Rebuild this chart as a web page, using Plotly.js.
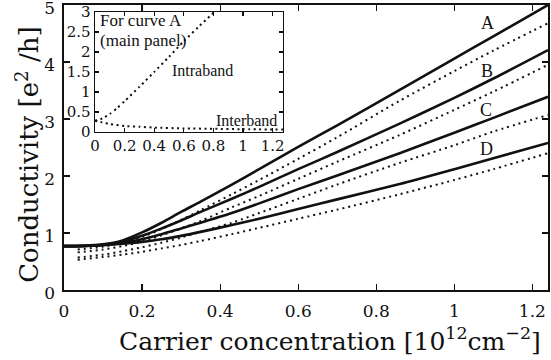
<!DOCTYPE html>
<html>
<head>
<meta charset="utf-8">
<script src="https://cdn.plot.ly/plotly-3.0.1.min.js"></script>
<style>html,body{margin:0;padding:0;background:#fff;}#chart{width:551px;height:360px;}</style>
</head>
<body>
<div id="chart"></div>
<script>
// Main panel: carrier concentration [10^12 cm^-2]
const xSolid = [0, 0.05, 0.1, 0.15, 0.2, 0.25, 0.3, 0.35, 0.43, 0.5, 0.6, 0.7, 0.86, 1.0, 1.1, 1.24];
const solidA = [0.77, 0.775, 0.80, 0.87, 1.01, 1.18, 1.37, 1.55, 1.85, 2.12, 2.51, 2.89, 3.51, 4.06, 4.45, 5.0];
const solidB = [0.77, 0.775, 0.795, 0.85, 0.95, 1.08, 1.22, 1.37, 1.60, 1.81, 2.12, 2.42, 2.92, 3.37, 3.71, 4.21];
const solidC = [0.77, 0.772, 0.79, 0.83, 0.89, 0.98, 1.08, 1.18, 1.35, 1.52, 1.77, 2.01, 2.40, 2.76, 3.02, 3.39];
const solidD = [0.77, 0.772, 0.785, 0.81, 0.845, 0.89, 0.95, 1.02, 1.14, 1.25, 1.42, 1.59, 1.86, 2.12, 2.31, 2.58];

const xDot = [0.035, 0.1, 0.15, 0.2, 0.25, 0.3, 0.35, 0.43, 0.5, 0.6, 0.7, 0.86, 1.0, 1.1, 1.24];
const dotA = [0.71, 0.76, 0.83, 0.93, 1.07, 1.23, 1.40, 1.68, 1.93, 2.30, 2.68, 3.32, 3.84, 4.20, 4.68];
const dotB = [0.66, 0.71, 0.77, 0.85, 0.96, 1.08, 1.21, 1.45, 1.65, 1.95, 2.25, 2.72, 3.16, 3.48, 3.95];
const dotC = [0.57, 0.62, 0.68, 0.75, 0.83, 0.92, 1.02, 1.18, 1.35, 1.60, 1.85, 2.23, 2.54, 2.78, 3.07];
const dotD = [0.53, 0.58, 0.62, 0.67, 0.73, 0.79, 0.86, 0.98, 1.09, 1.25, 1.41, 1.68, 1.93, 2.12, 2.40];

const curveLabels = ['A', 'B', 'C', 'D'];
const labelX = [1.084, 1.084, 1.082, 1.082];
const labelY = [4.69, 3.85, 3.16, 2.47];

// Inset (curve A decomposition)
const xIntra = [0, 0.05, 0.1, 0.15, 0.2, 0.3, 0.4, 0.5, 0.6, 0.7, 0.82];
const intraband = [0.28, 0.34, 0.45, 0.60, 0.77, 1.13, 1.50, 1.88, 2.27, 2.63, 3.05];
const xInter = [0, 0.05, 0.1, 0.2, 0.3, 0.4, 0.6, 0.8, 1.0, 1.27];
const interband = [0.28, 0.24, 0.20, 0.15, 0.13, 0.11, 0.09, 0.08, 0.07, 0.06];

const xTitle = 'Carrier concentration [10<sup>12</sup>cm<sup>\u22122</sup>]';
const yTitle = 'Conductivity [e<sup>2</sup> /h]';

const serif = 'DejaVu Serif, serif';
const times = 'Liberation Serif, Times New Roman, serif';

const solidLine = {color: '#111', width: 2.6};
const dotLine = {color: '#111', width: 2, dash: '2px,4px'};

const traces = [];
[solidA, solidB, solidC, solidD].forEach(function(ys){
  traces.push({x: xSolid, y: ys, type: 'scatter', mode: 'lines', line: Object.assign({shape: 'spline', smoothing: 0.8}, solidLine), hoverinfo: 'skip', showlegend: false});
});
[dotA, dotB, dotC, dotD].forEach(function(ys){
  traces.push({x: xDot, y: ys, type: 'scatter', mode: 'lines', line: Object.assign({shape: 'spline', smoothing: 0.8}, dotLine), hoverinfo: 'skip', showlegend: false});
});
traces.push({x: xIntra, y: intraband, xaxis: 'x2', yaxis: 'y2', type: 'scatter', mode: 'lines', line: {color: '#111', width: 2, dash: '2px,3.5px', shape: 'spline', smoothing: 0.6}, hoverinfo: 'skip', showlegend: false});
traces.push({x: xInter, y: interband, xaxis: 'x2', yaxis: 'y2', type: 'scatter', mode: 'lines', line: {color: '#111', width: 2, dash: '2px,3.5px', shape: 'spline', smoothing: 0.6}, hoverinfo: 'skip', showlegend: false});

const annotations = curveLabels.map(function(t, i){
  return {x: labelX[i], y: labelY[i], xref: 'x', yref: 'y', text: t, showarrow: false, font: {family: times, size: 18, color: '#111'}};
});
annotations.push({x: 0.02, y: 2.8, xref: 'x2', yref: 'y2', text: 'For curve A', xanchor: 'left', showarrow: false, font: {family: times, size: 17, color: '#111'}});
annotations.push({x: 0.02, y: 2.3, xref: 'x2', yref: 'y2', text: '(main panel)', xanchor: 'left', showarrow: false, font: {family: times, size: 17, color: '#111'}});
annotations.push({x: 0.51, y: 1.55, xref: 'x2', yref: 'y2', text: 'Intraband', xanchor: 'left', showarrow: false, font: {family: times, size: 16, color: '#111'}});
annotations.push({x: 1.24, y: 0.3, xref: 'x2', yref: 'y2', text: 'Interband', xanchor: 'right', showarrow: false, font: {family: times, size: 16, color: '#111'}});
// axis titles, positioned as in the reference
annotations.push({x: 0.5486, y: -0.175, xref: 'paper', yref: 'paper', text: xTitle, xanchor: 'center', yanchor: 'middle', showarrow: false, font: {family: serif, size: 25, color: '#111'}});
annotations.push({x: -0.076, y: 0.475, xref: 'paper', yref: 'paper', text: yTitle, textangle: -90, xanchor: 'center', yanchor: 'middle', showarrow: false, font: {family: serif, size: 26, color: '#111'}});

const axisCommon = {
  showgrid: false, zeroline: false, showline: true, linecolor: '#111', linewidth: 1.6,
  mirror: 'ticks', ticks: 'inside', tickcolor: '#111', tickwidth: 1.2
};

const layout = {
  width: 551, height: 360,
  margin: {l: 64, r: 3, t: 5, b: 70},
  paper_bgcolor: '#fff', plot_bgcolor: '#fff',
  showlegend: false,
  xaxis: Object.assign({}, axisCommon, {
    range: [0, 1.24], dtick: 0.2, tick0: 0, ticklen: 6,
    tickfont: {family: serif, size: 17, color: '#111'},
    ticklabelstandoff: 5, ticklabeloverflow: 'allow'
  }),
  yaxis: Object.assign({}, axisCommon, {
    range: [0, 5], dtick: 1, tick0: 0, ticklen: 6,
    tickfont: {family: serif, size: 17, color: '#111'},
    ticklabelstandoff: 4, ticklabelshift: 3, ticklabeloverflow: 'allow'
  }),
  xaxis2: Object.assign({}, axisCommon, {
    domain: [0.064, 0.4525], anchor: 'y2', range: [0, 1.27], dtick: 0.2, tick0: 0, ticklen: 4,
    linewidth: 1.4,
    tickfont: {family: serif, size: 15, color: '#111'}
  }),
  yaxis2: Object.assign({}, axisCommon, {
    domain: [0.5544, 0.9754], anchor: 'x2', range: [0, 3], dtick: 0.5, tick0: 0, ticklen: 4,
    linewidth: 1.4,
    tickfont: {family: serif, size: 15, color: '#111'}
  }),
  annotations: annotations
};

Plotly.newPlot('chart', traces, layout, {staticPlot: true, displayModeBar: false});
</script>
</body>
</html>
